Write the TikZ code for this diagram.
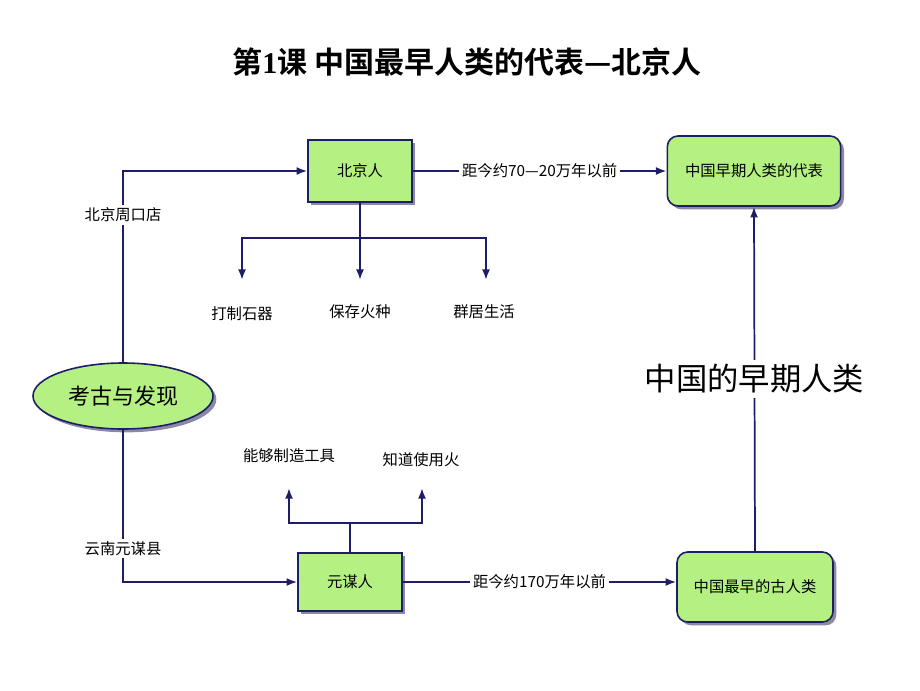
\documentclass[tikz,border=0pt]{standalone}
\usepackage{fontspec}
\setmainfont{Noto Sans CJK SC}
\newfontfamily\cjkb{Noto Sans CJK SC Bold}
\newfontfamily\serifb{Liberation Serif}
\usetikzlibrary{arrows.meta,shadows,shapes.geometric}
\definecolor{navy}{HTML}{1E1E66}
\definecolor{boxgreen}{HTML}{B4F082}
\definecolor{shadowc}{HTML}{8A8AA6}
\tikzset{
  line/.style={draw=navy, line width=1.3pt},
  arr/.style={line, -{Latex[length=8pt,width=6pt]}},
  boxshadow/.style={drop shadow={shadow xshift=2.5pt, shadow yshift=-2.5pt, fill=shadowc, opacity=1}},
  gbox/.style={draw=navy, line width=1.2pt, fill=boxgreen, boxshadow, font=\fontsize{11.5}{13}\selectfont, inner sep=0pt},
  rbox/.style={gbox, rounded corners=8pt},
  lab/.style={fill=white, inner sep=2pt, font=\fontsize{11.5}{13}\selectfont},
  txt/.style={inner sep=1pt, font=\fontsize{11.5}{13}\selectfont},
}
\begin{document}
\begin{tikzpicture}[x=0.75pt, y=-0.75pt]
\useasboundingbox (0,0) rectangle (920,690);
% title
\node (title) at (467,62) {\cjkb\fontsize{22.5}{26}\selectfont 第{\serifb\bfseries 1}课 中国最早人类的代表—北京人};
% boxes
\node[gbox, minimum width=78pt, minimum height=46.5pt] (bj) at (360,171) {北京人};
\node[rbox, minimum width=130pt, minimum height=52.5pt] (zq) at (754,171) {中国早期人类的代表};
\node[gbox, minimum width=78pt, minimum height=43.5pt] (ym) at (350,582) {元谋人};
\node[rbox, minimum width=117pt, minimum height=52.5pt] (zg) at (755,587) {中国最早的古人类};
\node[ellipse, draw=navy, line width=1.2pt, fill=boxgreen, boxshadow, minimum width=135pt, minimum height=49.5pt, inner sep=0pt, font=\fontsize{16.5}{19}\selectfont] (kg) at (123,396) {考古与发现};
% coordinates
\coordinate (bjb) at (360,238);
\coordinate (a1) at (242,280);
\coordinate (a2) at (360,280);
\coordinate (a3) at (486,280);
\coordinate (ymb) at (350,523);
\coordinate (b1) at (289,488);
\coordinate (b2) at (422,488);
% text labels
\node[txt] (t1) at (242,314) {打制石器};
\node[txt] (t2) at (360,312) {保存火种};
\node[txt] (t3) at (484,312) {群居生活};
\node[txt] (u1) at (289,456) {能够制造工具};
\node[txt] (u2) at (421,460) {知道使用火};
% connectors
\draw[arr] (kg.north) |- node[lab, pos=0.385] (l1) {北京周口店} (bj.west);
\draw[arr] (kg.south) |- node[lab, pos=0.39] (l2) {云南元谋县} (ym.west);
\draw[line] (bj.south) -- (bjb);
\draw[arr] (bjb) -| (a1);
\draw[arr] (bjb) -| (a3);
\draw[arr] (bjb) -- (a2);
\draw[line] (ym.north) -- (ymb);
\draw[arr] (ymb) -| (b1);
\draw[arr] (ymb) -| (b2);
\draw[arr] (bj.east) -- node[lab] (l3) {距今约70—20万年以前} (zq.west);
\draw[arr] (ym.east) -- node[lab] (l4) {距今约170万年以前} (ym.east -| zg.west);
\draw[arr] (zg.north) -- node[fill=white, inner sep=3pt, font=\fontsize{23.5}{27}\selectfont] (l5) {中国的早期人类} (zq.south);
\end{tikzpicture}
\end{document}
